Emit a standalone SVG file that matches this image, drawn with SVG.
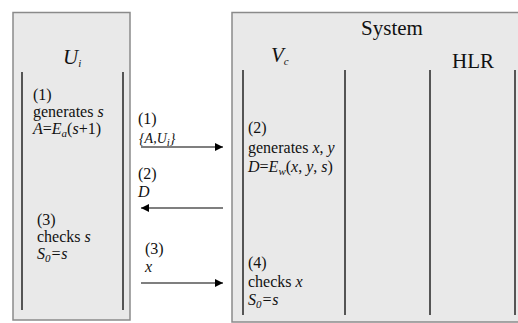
<svg xmlns="http://www.w3.org/2000/svg" width="518" height="323" viewBox="0 0 518 323">
<defs>
<style>
.box{fill:#e9e9e9;stroke:#8a8a8a;stroke-width:1.5}
.lane{stroke:#555;stroke-width:2}
text{font-family:'Liberation Serif','Times New Roman',serif;fill:#111}
.t{font-size:16px}
.h{font-size:21px}
.i{font-style:italic}
.sub{font-size:11px}
.m{font-size:14px}
.msg{stroke:#000;stroke-width:1.2;fill:none}
</style>
<marker id="ah" viewBox="0 0 10 10" refX="10" refY="5" markerWidth="11" markerHeight="8" markerUnits="userSpaceOnUse" orient="auto">
<path d="M0,0 L10,5 L0,10 z" fill="#000"/>
</marker>
</defs>
<rect width="518" height="323" fill="#fff"/>
<g id="ui">
<rect class="box" x="13" y="12.5" width="117" height="307.5"/>
<line class="lane" x1="22" y1="72" x2="22" y2="310"/>
<line class="lane" x1="123" y1="72" x2="123" y2="310"/>
<text class="h i" x="63" y="64">U<tspan class="sub" dy="3">i</tspan></text>
<text class="t" x="33" y="100">(1)</text>
<text class="t" x="33" y="117">generates <tspan class="i">s</tspan></text>
<text class="t" x="33" y="134"><tspan class="i">A</tspan>=<tspan class="i">E</tspan><tspan class="sub i" dy="3">a</tspan><tspan dy="-3">(</tspan><tspan class="i">s</tspan>+1)</text>
<text class="t" x="37" y="225">(3)</text>
<text class="t" x="37" y="242">checks <tspan class="i">s</tspan></text>
<text class="t i" x="37" y="259">S<tspan class="sub" dy="3">0</tspan><tspan dy="-3">=s</tspan></text>
</g>
<g id="system">
<rect class="box" x="232" y="12.5" width="290" height="309.5"/>
<text class="h" x="392" y="35" text-anchor="middle">System</text>
<text class="h i" x="271" y="62">V<tspan class="sub" dy="3">c</tspan></text>
<text class="h" x="452" y="68">HLR</text>
<line class="lane" x1="243" y1="70" x2="243" y2="315"/>
<line class="lane" x1="345" y1="70" x2="345" y2="315"/>
<line class="lane" x1="430" y1="70" x2="430" y2="315"/>
<line class="lane" x1="515" y1="70" x2="515" y2="315"/>
<text class="t" x="248" y="133">(2)</text>
<text class="t" x="248" y="153">generates <tspan class="i">x</tspan>, <tspan class="i">y</tspan></text>
<text class="t" x="248" y="172"><tspan class="i">D</tspan>=<tspan class="i">E</tspan><tspan class="sub i" dy="3">w</tspan><tspan dy="-3">(</tspan><tspan class="i">x</tspan>, <tspan class="i">y</tspan>, <tspan class="i">s</tspan>)</text>
<text class="t" x="248" y="268">(4)</text>
<text class="t" x="248" y="287">checks <tspan class="i">x</tspan></text>
<text class="t i" x="248" y="305">S<tspan class="sub" dy="3">0</tspan><tspan dy="-3">=s</tspan></text>
</g>
<g id="connectors">
<line class="msg" x1="141" y1="147" x2="223" y2="147" marker-end="url(#ah)"/>
<line class="msg" x1="223" y1="208" x2="141" y2="208" marker-end="url(#ah)"/>
<line class="msg" x1="141" y1="283" x2="223" y2="283" marker-end="url(#ah)"/>
<text class="t" x="138" y="124">(1)</text>
<text class="m i" x="139" y="143">{A,U<tspan class="sub" dy="3">i</tspan><tspan dy="-3">}</tspan></text>
<text class="t" x="138" y="179">(2)</text>
<text class="t i" x="138" y="197">D</text>
<text class="t" x="145" y="254">(3)</text>
<text class="t i" x="145" y="272">x</text>
</g>
</svg>
